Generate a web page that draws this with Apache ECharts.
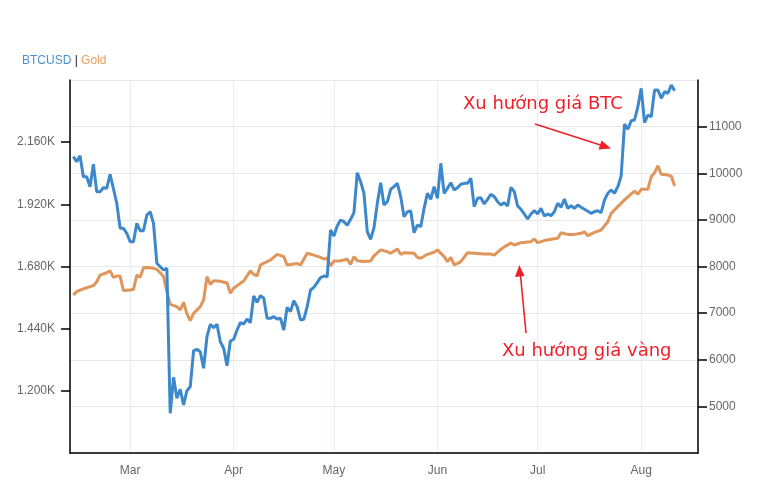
<!DOCTYPE html>
<html><head><meta charset="utf-8">
<script src="https://cdn.jsdelivr.net/npm/echarts@6/dist/echarts.min.js"></script>
<style>html,body{margin:0;padding:0;background:#fff}#c{width:771px;height:490px}</style>
</head><body><div id="c"></div>
<script>
const btcDates = ['2020-02-13','2020-02-14','2020-02-15','2020-02-16','2020-02-17','2020-02-18','2020-02-19','2020-02-20','2020-02-21','2020-02-22','2020-02-23','2020-02-24','2020-02-26','2020-02-27','2020-02-28','2020-02-29',
'2020-03-01','2020-03-02','2020-03-03','2020-03-04','2020-03-05','2020-03-06','2020-03-07','2020-03-08','2020-03-09','2020-03-10','2020-03-11','2020-03-12','2020-03-13','2020-03-14','2020-03-15','2020-03-16','2020-03-17','2020-03-18','2020-03-19','2020-03-20','2020-03-21','2020-03-22','2020-03-23','2020-03-24','2020-03-25','2020-03-26','2020-03-27','2020-03-28','2020-03-29','2020-03-30','2020-03-31',
'2020-04-01','2020-04-02','2020-04-03','2020-04-04','2020-04-05','2020-04-06','2020-04-07','2020-04-08','2020-04-09','2020-04-10','2020-04-11','2020-04-12','2020-04-13','2020-04-14','2020-04-15','2020-04-16','2020-04-17','2020-04-18','2020-04-19','2020-04-20','2020-04-21','2020-04-22','2020-04-23','2020-04-24','2020-04-25','2020-04-26','2020-04-27','2020-04-28','2020-04-29','2020-04-30',
'2020-05-01','2020-05-02','2020-05-03','2020-05-04','2020-05-05','2020-05-06','2020-05-07','2020-05-08','2020-05-09','2020-05-10','2020-05-11','2020-05-12','2020-05-13','2020-05-14','2020-05-15','2020-05-16','2020-05-17','2020-05-18','2020-05-19','2020-05-20','2020-05-21','2020-05-22','2020-05-23','2020-05-24','2020-05-25','2020-05-26','2020-05-27','2020-05-28','2020-05-29','2020-05-30','2020-05-31',
'2020-06-01','2020-06-02','2020-06-03','2020-06-04','2020-06-05','2020-06-06','2020-06-07','2020-06-08','2020-06-09','2020-06-10','2020-06-11','2020-06-12','2020-06-13','2020-06-14','2020-06-15','2020-06-16','2020-06-17','2020-06-18','2020-06-19','2020-06-20','2020-06-21','2020-06-22','2020-06-23','2020-06-24','2020-06-25','2020-06-26','2020-06-27','2020-06-28','2020-06-29','2020-06-30',
'2020-07-01','2020-07-02','2020-07-03','2020-07-04','2020-07-05','2020-07-06','2020-07-07','2020-07-08','2020-07-09','2020-07-10','2020-07-11','2020-07-12','2020-07-13','2020-07-14','2020-07-15','2020-07-17','2020-07-18','2020-07-19','2020-07-20','2020-07-21','2020-07-22','2020-07-23','2020-07-24','2020-07-25','2020-07-26','2020-07-27','2020-07-28','2020-07-29','2020-07-30','2020-07-31',
'2020-08-01','2020-08-02','2020-08-03','2020-08-04','2020-08-05','2020-08-06','2020-08-07','2020-08-08','2020-08-09','2020-08-10','2020-08-11'];
const btcValues = [10355,10248,10377,9926,9926,9712,10192,9604,9604,9690,9677,9978,9356,8819,8819,8712,
8532,8532,8927,8768,8768,9105,9175,8927,8069,7996,7925,7960,4851,5624,5173,5366,5030,5336,5422,6194,6224,6173,5817,6494,6760,6687,6760,6387,6246,5872,6402,
6439,6638,6795,6767,6874,6795,7367,7232,7374,7318,6889,6889,6923,6874,6889,6638,7125,7031,7267,7138,6853,6867,7138,7496,7554,7653,7760,7796,7781,8783,
8654,8869,8997,8961,8884,9012,9154,10012,9819,9570,8746,8583,8832,9356,9797,9319,9390,9656,9712,9784,9497,9068,9175,9190,8725,8890,8854,9248,9570,9441,9712,
9463,10214,9570,9677,9797,9641,9690,9763,9784,9784,9892,9283,9463,9476,9341,9441,9549,9497,9390,9319,9368,9298,9699,9604,9298,9227,9126,9019,9126,9197,
9126,9248,9083,9126,9090,9175,9356,9270,9448,9248,9304,9248,9319,9270,9227,9141,9175,9197,9154,9426,9570,9641,9570,9712,9941,11056,10943,11127,11142,11427,
11822,11084,11249,11213,11786,11786,11608,11749,11715,11893,11771];

const goldDates = ['2020-02-13','2020-02-14','2020-02-15','2020-02-17','2020-02-19','2020-02-20','2020-02-21','2020-02-23','2020-02-24','2020-02-25','2020-02-26','2020-02-27','2020-02-28',
'2020-03-01','2020-03-02','2020-03-03','2020-03-04','2020-03-05','2020-03-06','2020-03-08','2020-03-09','2020-03-10','2020-03-11','2020-03-12','2020-03-13','2020-03-15','2020-03-16','2020-03-17','2020-03-18','2020-03-19','2020-03-20','2020-03-22','2020-03-23','2020-03-24','2020-03-25','2020-03-26','2020-03-28','2020-03-29','2020-03-30','2020-03-31',
'2020-04-01','2020-04-03','2020-04-04','2020-04-06','2020-04-07','2020-04-08','2020-04-09','2020-04-12','2020-04-14','2020-04-16','2020-04-17','2020-04-19','2020-04-20','2020-04-21','2020-04-23','2020-04-25','2020-04-27','2020-04-28','2020-04-29','2020-04-30',
'2020-05-01','2020-05-03','2020-05-05','2020-05-06','2020-05-07','2020-05-08','2020-05-10','2020-05-12','2020-05-13','2020-05-15','2020-05-17','2020-05-18','2020-05-20','2020-05-21','2020-05-22','2020-05-25','2020-05-26','2020-05-27','2020-05-29','2020-05-31',
'2020-06-01','2020-06-03','2020-06-04','2020-06-05','2020-06-06','2020-06-07','2020-06-08','2020-06-10','2020-06-12','2020-06-15','2020-06-17','2020-06-18','2020-06-20','2020-06-21','2020-06-23','2020-06-24','2020-06-26','2020-06-28','2020-06-29','2020-06-30',
'2020-07-01','2020-07-03','2020-07-05','2020-07-07','2020-07-08','2020-07-10','2020-07-12','2020-07-14','2020-07-15','2020-07-16','2020-07-18','2020-07-20','2020-07-22','2020-07-23','2020-07-25','2020-07-27','2020-07-29','2020-07-30','2020-07-31',
'2020-08-01','2020-08-03','2020-08-04','2020-08-05','2020-08-06','2020-08-07','2020-08-09','2020-08-10','2020-08-11'];
const goldValues = [1570,1583,1589,1598,1606,1621,1647,1656,1663,1638,1643,1643,1587,
1589,1592,1647,1638,1675,1676,1673,1669,1656,1641,1583,1534,1525,1512,1542,1497,1471,1499,1525,1551,1641,1611,1625,1623,1619,1617,1577,
1596,1615,1624,1663,1650,1644,1686,1705,1727,1718,1686,1690,1692,1686,1731,1724,1715,1709,1712,1682,
1701,1702,1708,1688,1718,1702,1699,1701,1721,1744,1737,1731,1748,1727,1733,1731,1715,1712,1727,1735,
1744,1718,1699,1715,1686,1692,1699,1733,1731,1728,1728,1724,1746,1756,1770,1763,1772,1775,1776,1786,
1772,1780,1785,1789,1810,1804,1804,1808,1814,1799,1812,1821,1853,1885,1911,1937,1960,1971,1959,
1978,1978,2027,2042,2069,2036,2033,2029,1991];

const seriesNames = ['BTCUSD', 'Gold'];
const annotationBTC = 'Xu hướng giá BTC';
const annotationGold = 'Xu hướng giá vàng';

const BLUE = '#3d87cb', ORANGE = '#e0955b', RED = '#f0202a';
const DAY = 24 * 3600 * 1000;

const chart = echarts.init(document.getElementById('c'), null, {renderer: 'canvas'});
const axisFont = {color: '#666', fontSize: 12, fontFamily: 'Liberation Sans, Arial, sans-serif'};

chart.setOption({
  animation: false,
  backgroundColor: '#fff',
  title: {
    left: 17, top: 50,
    text: '{a|' + seriesNames[0] + '} | {b|' + seriesNames[1] + '}',
    textStyle: {
      fontSize: 12, fontWeight: 'normal', color: '#222', fontFamily: 'Liberation Sans, Arial, sans-serif',
      rich: {
        a: {color: '#4a90d0', fontSize: 12, fontFamily: 'Liberation Sans, Arial, sans-serif'},
        b: {color: '#e8a060', fontSize: 12, fontFamily: 'Liberation Sans, Arial, sans-serif'}
      }
    }
  },
  grid: {left: 70, right: 73, top: 80, bottom: 37, containLabel: false},
  xAxis: {
    type: 'time',
    min: '2020-02-12', max: '2020-08-18',
    minInterval: 28 * DAY, maxInterval: 31 * DAY,
    axisLine: {lineStyle: {color: '#000', width: 1.5}},
    axisTick: {show: false},
    axisLabel: Object.assign({formatter: '{MMM}', margin: 12, hideOverlap: false, showMinLabel: false, showMaxLabel: false}, axisFont),
    splitLine: {show: true, lineStyle: {color: '#e9eef5', width: 1}}
  },
  yAxis: [{
    type: 'value', position: 'left',
    min: 960, max: 2400, interval: 240,
    axisLine: {show: true, lineStyle: {color: '#000', width: 1.5}},
    axisTick: {show: true, length: 9, lineStyle: {color: '#000', width: 1.5}},
    axisLabel: Object.assign({margin: 15, showMinLabel: false, showMaxLabel: false,
      formatter: v => (v / 1000).toFixed(3) + 'K'}, axisFont),
    splitLine: {show: false}
  }, {
    type: 'value', position: 'right',
    min: 4000, max: 12000, interval: 1000,
    axisLine: {show: true, lineStyle: {color: '#000', width: 1.5}},
    axisTick: {show: true, length: 9, lineStyle: {color: '#000', width: 1.5}},
    axisLabel: Object.assign({margin: 11, showMinLabel: false, showMaxLabel: false,
      formatter: v => String(v)}, axisFont),
    splitLine: {show: true, lineStyle: {color: '#e6e6e6', width: 1}}
  }],
  series: [{
    name: seriesNames[1], type: 'line', yAxisIndex: 0, showSymbol: false,
    lineStyle: {color: ORANGE, width: 3}, itemStyle: {color: ORANGE},
    data: goldDates.map((d, i) => [d, goldValues[i]])
  }, {
    name: seriesNames[0], type: 'line', yAxisIndex: 1, showSymbol: false,
    lineStyle: {color: BLUE, width: 3}, itemStyle: {color: BLUE},
    data: btcDates.map((d, i) => [d, btcValues[i]])
  }],
  graphic: [
    {type: 'text', left: 463, top: 95, z: 100,
      style: {text: annotationBTC, fill: RED, fontSize: 18, fontFamily: 'DejaVu Sans, sans-serif'}},
    {type: 'line', z: 100, shape: {x1: 535, y1: 124, x2: 602, y2: 145.5}, style: {stroke: RED, lineWidth: 1.6}},
    {type: 'polygon', z: 100, shape: {points: [[611, 148.5], [598.5, 149.5], [601.5, 140.5]]}, style: {fill: RED}},
    {type: 'text', left: 502, top: 342, z: 100,
      style: {text: annotationGold, fill: RED, fontSize: 18, fontFamily: 'DejaVu Sans, sans-serif'}},
    {type: 'line', z: 100, shape: {x1: 526, y1: 333, x2: 520.5, y2: 275}, style: {stroke: RED, lineWidth: 1.6}},
    {type: 'polygon', z: 100, shape: {points: [[519.3, 265], [515, 277], [524.5, 276]]}, style: {fill: RED}}
  ]
});
</script></body></html>
